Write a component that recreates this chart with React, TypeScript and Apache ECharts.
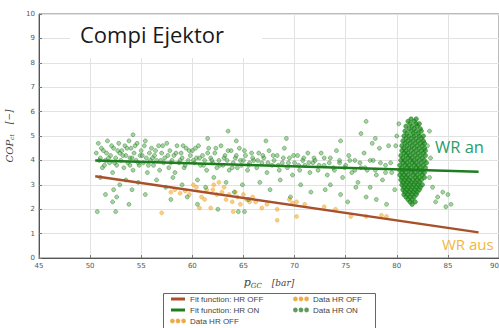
import React, { useEffect, useRef } from "react";
import * as echarts from "echarts";

// ---- data ----
const xTicks = [45, 50, 55, 60, 65, 70, 75, 80, 85, 90];
const yTicks = [0, 1, 2, 3, 4, 5, 6, 7, 8, 9, 10];

const fitHrOff: [number, number][] = [[50.5, 3.35], [88, 1.05]];
const fitHrOn: [number, number][] = [[50.5, 4.0], [88, 3.53]];

const dataHrOff: [number, number][] = [
  [57.0, 1.85], [57.9, 2.7], [58.3, 2.8], [58.8, 2.65], [59.3, 2.75], [59.7, 2.6], [60.1, 3.0], [60.4, 2.9],
  [60.7, 2.05], [60.9, 2.5], [61.2, 2.4], [61.4, 2.8], [61.8, 2.05], [62.0, 2.8], [62.1, 3.0], [62.4, 2.6],
  [62.6, 3.1], [62.9, 2.7], [63.1, 2.9], [63.3, 2.4], [63.6, 2.6], [63.9, 2.3], [64.0, 1.9], [64.2, 2.7],
  [64.4, 2.5], [64.7, 2.2], [65.0, 2.6], [65.3, 2.4], [65.6, 2.3], [65.9, 2.5], [66.2, 2.3], [66.8, 2.05],
  [67.3, 2.2], [68.3, 2.0], [68.3, 1.55], [69.5, 2.4], [69.8, 2.25], [70.2, 2.3], [70.2, 1.7], [71.0, 2.2],
  [72.9, 2.1], [74.0, 2.0], [75.5, 1.7], [77.0, 1.7], [78.5, 1.75], [79.0, 1.7],
];

const dataHrOnBand: [number, number][] = [
  [50.6, 4.3], [50.8, 4.7], [51.0, 4.1], [51.2, 3.7], [51.3, 4.4], [51.5, 4.0], [51.7, 4.8], [51.9, 3.9],
  [52.0, 4.2], [52.2, 3.5], [52.3, 4.5], [52.5, 4.1], [52.6, 3.8], [52.8, 4.7], [52.9, 4.3], [53.0, 4.0],
  [53.1, 4.4], [53.3, 3.7], [53.4, 4.6], [53.5, 4.2], [53.7, 3.9], [53.8, 4.8], [53.9, 4.1], [54.0, 4.5],
  [54.2, 3.6], [54.3, 4.3], [54.5, 4.0], [54.6, 4.7], [54.8, 3.8], [54.9, 4.2], [55.0, 4.4], [55.2, 3.9],
  [55.3, 4.6], [55.5, 4.1], [55.6, 3.5], [55.8, 4.3], [55.9, 4.0], [56.0, 4.5], [56.2, 3.8], [56.3, 4.2],
  [56.5, 4.0], [56.7, 4.6], [56.8, 3.6], [57.0, 4.3], [57.2, 3.9], [57.3, 4.1], [57.5, 4.7], [57.7, 3.7],
  [57.8, 4.4], [58.0, 4.0], [58.2, 4.2], [58.3, 3.5], [58.5, 4.6], [58.7, 3.9], [58.9, 4.3], [59.0, 4.1],
  [59.2, 3.7], [59.4, 4.5], [59.6, 4.0], [59.8, 4.2], [60.0, 4.4], [60.2, 3.9], [60.4, 4.1], [60.6, 4.6],
  [60.8, 3.8], [61.0, 4.2], [61.2, 4.0], [61.4, 3.6], [61.6, 4.5], [61.8, 4.1], [62.0, 3.9], [62.2, 4.3],
  [62.4, 3.7], [62.6, 4.0], [62.8, 4.6], [63.0, 3.8], [63.2, 4.2], [63.4, 4.0], [63.6, 3.6], [63.8, 4.4],
  [64.0, 3.9], [64.2, 4.1], [64.4, 3.7], [64.6, 4.5], [64.8, 3.8], [65.0, 4.0], [65.2, 4.2], [65.4, 3.6],
  [65.6, 3.9], [65.8, 4.3], [66.0, 4.0], [66.3, 3.7], [66.5, 4.3], [66.8, 3.9], [67.0, 4.1], [67.3, 3.5],
  [67.5, 4.4], [67.8, 3.8], [68.0, 4.0], [68.3, 4.2], [68.5, 3.6], [68.8, 3.9], [69.0, 4.5], [69.3, 3.7],
  [69.5, 4.1], [69.8, 3.4], [70.0, 3.9], [70.3, 4.2], [70.5, 3.6], [70.8, 4.0], [71.0, 3.8], [71.3, 4.3],
  [71.5, 3.5], [71.8, 3.9], [72.0, 4.0], [72.3, 3.6], [72.6, 4.3], [72.9, 3.8], [73.2, 3.4], [73.5, 4.1],
  [73.8, 3.7], [74.1, 4.4], [74.4, 3.9], [74.7, 3.3], [75.0, 3.8], [75.3, 4.2], [75.6, 3.5], [75.9, 4.0],
  [76.2, 3.1], [76.5, 3.7], [76.8, 4.3], [77.1, 3.6], [77.4, 2.9], [77.7, 4.0], [78.0, 3.4], [78.3, 4.5],
  [78.6, 3.2], [78.9, 3.8], [79.2, 4.6], [79.5, 3.5], [79.8, 2.8],
];

const dataHrOnBand2: [number, number][] = [
  [50.9, 4.0], [51.1, 4.5], [51.4, 3.8], [51.6, 4.3], [51.8, 4.1], [52.1, 4.6], [52.4, 3.9], [52.7, 4.4],
  [53.2, 4.2], [53.6, 4.5], [53.9, 3.8], [54.1, 4.1], [54.4, 4.6], [54.7, 3.9], [55.1, 4.2], [55.4, 4.8],
  [55.7, 3.8], [56.1, 4.1], [56.4, 4.4], [56.9, 4.0], [57.1, 4.6], [57.6, 4.2], [57.9, 3.9], [58.4, 4.3],
  [58.8, 4.0], [59.1, 4.6], [59.3, 3.8], [59.7, 4.4], [60.1, 4.0], [60.3, 4.5], [60.7, 4.1], [61.1, 3.8],
  [61.5, 4.3], [61.9, 4.0], [62.3, 4.5], [62.7, 3.8], [63.1, 4.1], [63.5, 4.4], [63.9, 3.7], [64.3, 4.2],
  [64.7, 4.0], [65.1, 4.4], [65.5, 3.8], [65.9, 4.1], [66.4, 4.0], [66.9, 4.2], [67.4, 3.9], [67.9, 4.2],
  [68.4, 3.8], [68.9, 4.1], [69.4, 3.9], [69.9, 4.2], [70.4, 3.8], [70.9, 4.1], [71.4, 3.9], [71.9, 4.1],
  [72.4, 3.8], [72.9, 4.1], [73.4, 3.9], [73.9, 3.6], [74.4, 4.0], [74.9, 3.7], [75.4, 4.0], [75.9, 3.6],
  [76.4, 3.9], [76.9, 3.7], [77.4, 4.0], [77.9, 3.6], [78.4, 3.9], [78.9, 3.5], [79.4, 3.9],
];

const dataHrOnOutliers: [number, number][] = [
  [50.7, 1.9], [52.5, 1.9], [51.5, 2.6], [52.2, 2.3], [52.6, 2.5], [52.3, 2.8], [51.0, 3.3], [52.9, 3.0],
  [53.5, 3.2], [54.1, 2.8], [54.7, 3.1], [55.4, 2.6], [53.8, 2.2], [54.2, 5.05], [56.5, 3.2], [57.4, 2.9],
  [58.1, 3.3], [59.0, 3.0], [59.5, 2.5], [57.9, 2.4], [60.5, 3.2], [61.3, 2.9], [62.1, 3.3], [63.3, 3.1],
  [64.1, 2.7], [64.9, 3.0], [65.5, 2.4], [63.5, 5.2], [61.5, 4.9], [64.3, 4.8], [62.5, 2.0], [64.5, 1.9],
  [65.1, 1.9], [60.5, 2.2], [66.6, 3.1], [67.6, 2.8], [68.6, 3.2], [69.6, 2.5], [70.6, 3.0], [71.6, 2.7],
  [67.2, 4.8], [69.2, 4.9], [73.0, 2.8], [74.5, 2.6], [75.2, 2.3], [76.0, 2.9], [77.0, 2.5], [78.0, 2.4],
  [79.0, 2.2], [76.5, 5.1], [74.5, 4.8], [77.9, 4.9], [73.5, 3.0], [77.0, 5.6], [77.6, 4.7],
  [80.2, 5.5], [80.0, 5.0], [79.9, 4.6], [83.2, 5.2], [83.0, 4.6], [83.3, 4.1],
  [83.2, 3.3], [83.5, 2.9], [83.8, 2.3], [84.0, 2.5], [84.5, 2.7], [84.8, 2.1], [85.0, 2.6], [85.3, 2.2],
];

// dense cluster near p_GC = 81.6 bar, one row per COP level: [COP, p values...]
const dataHrOnCluster: number[][] = [
  [5.7, 81.4, 81.9], [5.6, 81.1, 81.7], [5.5, 81.3, 81.9, 82.2], [5.4, 80.9, 81.5, 82.0],
  [5.3, 81.2, 81.7, 82.3], [5.2, 80.8, 81.4, 81.9, 82.4], [5.1, 81.0, 81.6, 82.1],
  [5.0, 80.7, 81.2, 81.7, 82.2, 82.6], [4.9, 80.9, 81.4, 81.9, 82.4], [4.8, 80.6, 81.1, 81.6, 82.1, 82.6],
  [4.7, 80.8, 81.3, 81.8, 82.3, 82.7], [4.6, 80.5, 81.0, 81.5, 82.0, 82.5], [4.5, 80.7, 81.2, 81.7, 82.2, 82.7],
  [4.4, 80.5, 80.9, 81.4, 81.9, 82.4, 82.8], [4.3, 80.7, 81.1, 81.6, 82.1, 82.6],
  [4.2, 80.4, 80.9, 81.3, 81.8, 82.3, 82.8], [4.1, 80.6, 81.1, 81.5, 82.0, 82.5],
  [4.0, 80.4, 80.8, 81.3, 81.7, 82.2, 82.7], [3.9, 80.6, 81.0, 81.5, 81.9, 82.4, 82.9],
  [3.8, 80.3, 80.8, 81.2, 81.7, 82.1, 82.6], [3.7, 80.5, 81.0, 81.4, 81.9, 82.3, 82.8],
  [3.6, 80.3, 80.7, 81.2, 81.6, 82.1, 82.5], [3.5, 80.5, 80.9, 81.4, 81.8, 82.3, 82.7],
  [3.4, 80.3, 80.7, 81.1, 81.6, 82.0, 82.5], [3.3, 80.5, 80.9, 81.3, 81.8, 82.2, 82.7],
  [3.2, 80.4, 80.8, 81.2, 81.6, 82.0, 82.4], [3.1, 80.6, 81.0, 81.4, 81.8, 82.2],
  [3.0, 80.5, 80.9, 81.3, 81.7, 82.1, 82.5], [2.9, 80.7, 81.1, 81.5, 81.9, 82.3],
  [2.8, 80.6, 81.0, 81.4, 81.8, 82.2], [2.7, 80.8, 81.2, 81.6, 82.0], [2.6, 80.7, 81.1, 81.5, 81.9],
  [2.5, 80.9, 81.3, 81.7], [2.4, 81.1, 81.5], [2.3, 81.3, 81.8], [2.2, 81.5],
];

const legendLeft = ["Fit function: HR OFF", "Fit function: HR ON", "Data HR OFF"];
const legendRight = ["Data HR OFF", "Data HR ON"];

const dotsIcon =
  "path://M0,2a2,2 0 1,0 4,0a2,2 0 1,0 -4,0M8,2a2,2 0 1,0 4,0a2,2 0 1,0 -4,0M16,2a2,2 0 1,0 4,0a2,2 0 1,0 -4,0";

export default function App() {
  const ref = useRef<HTMLDivElement>(null);
  useEffect(() => {
    if (!ref.current) return;
    const chart = echarts.init(ref.current, undefined, { renderer: "svg" });
    const clusterPts: [number, number][] = [];
    dataHrOnCluster.forEach((row) => {
      for (let i = 1; i < row.length; i++) clusterPts.push([row[i], row[0]]);
    });
    const hrOn = [...dataHrOnBand, ...dataHrOnBand2, ...dataHrOnOutliers];

    const legendItem = (n: string) =>
      n.startsWith("Fit") ? { name: n, icon: "rect" } : { name: n, icon: dotsIcon };

    const legendCommon = {
      top: 295,
      orient: "vertical",
      itemGap: 3,
      itemWidth: 14,
      itemHeight: 3,
      padding: 0,
      textStyle: { fontSize: 8, color: "#444", fontFamily: "Liberation Sans" },
    };

    chart.setOption({
      animation: false,
      backgroundColor: "#ffffff",
      grid: {
        left: 39,
        top: 14,
        width: 460,
        height: 244,
        show: true,
        borderColor: "#777",
        borderWidth: 1,
        outerBoundsMode: "none",
        containLabel: false,
      },
      xAxis: {
        type: "value",
        min: xTicks[0],
        max: xTicks[xTicks.length - 1],
        interval: 5,
        axisLine: { show: true, lineStyle: { color: "#555" } },
        axisTick: { show: true, inside: true, length: 3, lineStyle: { color: "#777" } },
        axisLabel: { fontSize: 7, color: "#555", margin: 4, fontFamily: "DejaVu Sans", alignMaxLabel: "right" },
        splitLine: { show: true, lineStyle: { color: "#e2e2e2", width: 1 } },
        name: "{a|p}{s|GC}   {b|[bar]}",
        nameLocation: "middle",
        nameGap: 18,
        nameTextStyle: {
          rich: {
            a: { fontFamily: "DejaVu Serif", fontStyle: "italic", fontSize: 11, color: "#444" },
            s: { fontFamily: "DejaVu Serif", fontStyle: "italic", fontSize: 7, color: "#444", padding: [6, 0, 0, 0] },
            b: { fontFamily: "DejaVu Serif", fontStyle: "italic", fontSize: 9, color: "#444" },
          },
        },
      },
      yAxis: {
        type: "value",
        min: yTicks[0],
        max: yTicks[yTicks.length - 1],
        interval: 1,
        axisLine: { show: true, lineStyle: { color: "#555" } },
        axisTick: { show: true, inside: true, length: 3, lineStyle: { color: "#777" } },
        axisLabel: { fontSize: 7, color: "#555", margin: 4, fontFamily: "DejaVu Sans" },
        splitLine: { show: true, lineStyle: { color: "#e2e2e2", width: 1 } },
        name: "{a|COP}{s|ct}   {b|[−]}",
        nameLocation: "middle",
        nameGap: 19,
        nameRotate: 90,
        nameTextStyle: {
          rich: {
            a: { fontFamily: "DejaVu Serif", fontStyle: "italic", fontSize: 10, color: "#444" },
            s: { fontFamily: "DejaVu Serif", fontStyle: "italic", fontSize: 6, color: "#444", padding: [5, 0, 0, 0] },
            b: { fontFamily: "DejaVu Serif", fontStyle: "italic", fontSize: 9, color: "#444" },
          },
        },
      },
      legend: [
        { ...legendCommon, left: 170, data: legendLeft.map(legendItem) },
        { ...legendCommon, left: 293, data: legendRight.map(legendItem) },
      ],
      graphic: [
        {
          type: "rect",
          z: 10,
          shape: { x: 70, y: 15, width: 192, height: 43 },
          style: { fill: "#ffffff" },
        },
        {
          type: "text",
          z: 11,
          x: 80,
          y: 23,
          style: { text: "Compi Ejektor", fontSize: 22, fontFamily: "Open Sans", fill: "#1a1a1a" },
        },
        {
          type: "text",
          z: 11,
          x: 435,
          y: 138,
          style: { text: "WR an", fontSize: 16.5, fontFamily: "Open Sans", fill: "#2a9d6a" },
        },
        {
          type: "text",
          z: 11,
          x: 442,
          y: 236,
          style: { text: "WR aus", fontSize: 15, fontFamily: "Open Sans", fill: "#f2b640" },
        },
        {
          type: "rect",
          z: 1,
          shape: { x: 163.5, y: 293.5, width: 212, height: 44 },
          style: { fill: "none", stroke: "#666", lineWidth: 1 },
        },
      ],
      series: [
        {
          name: "Data HR OFF",
          type: "scatter",
          data: dataHrOff,
          symbolSize: 4,
          itemStyle: { color: "rgba(245,175,50,0.75)", borderColor: "rgba(225,145,20,0.85)", borderWidth: 0.5 },
          z: 2,
        },
        {
          name: "Data HR ON",
          type: "scatter",
          data: hrOn,
          symbolSize: 4,
          itemStyle: { color: "rgba(70,165,60,0.6)", borderColor: "rgba(25,110,25,0.8)", borderWidth: 0.6 },
          z: 3,
        },
        {
          name: "Data HR ON",
          type: "scatter",
          data: clusterPts,
          symbolSize: 4.5,
          itemStyle: { color: "rgba(25,140,25,0.9)", borderColor: "rgba(20,110,20,0.9)", borderWidth: 0.5 },
          z: 3,
        },
        {
          name: "Fit function: HR OFF",
          type: "line",
          data: fitHrOff,
          showSymbol: false,
          lineStyle: { color: "#a8502a", width: 2.5 },
          itemStyle: { color: "#a8502a" },
          z: 5,
        },
        {
          name: "Fit function: HR ON",
          type: "line",
          data: fitHrOn,
          showSymbol: false,
          lineStyle: { color: "#1e7d1e", width: 2.5 },
          itemStyle: { color: "#1e7d1e" },
          z: 5,
        },
      ],
    });
    return () => chart.dispose();
  }, []);
  return (
    <div
      ref={ref}
      style={{ position: "fixed", left: 0, top: 0, width: 499, height: 345 }}
    />
  );
}
